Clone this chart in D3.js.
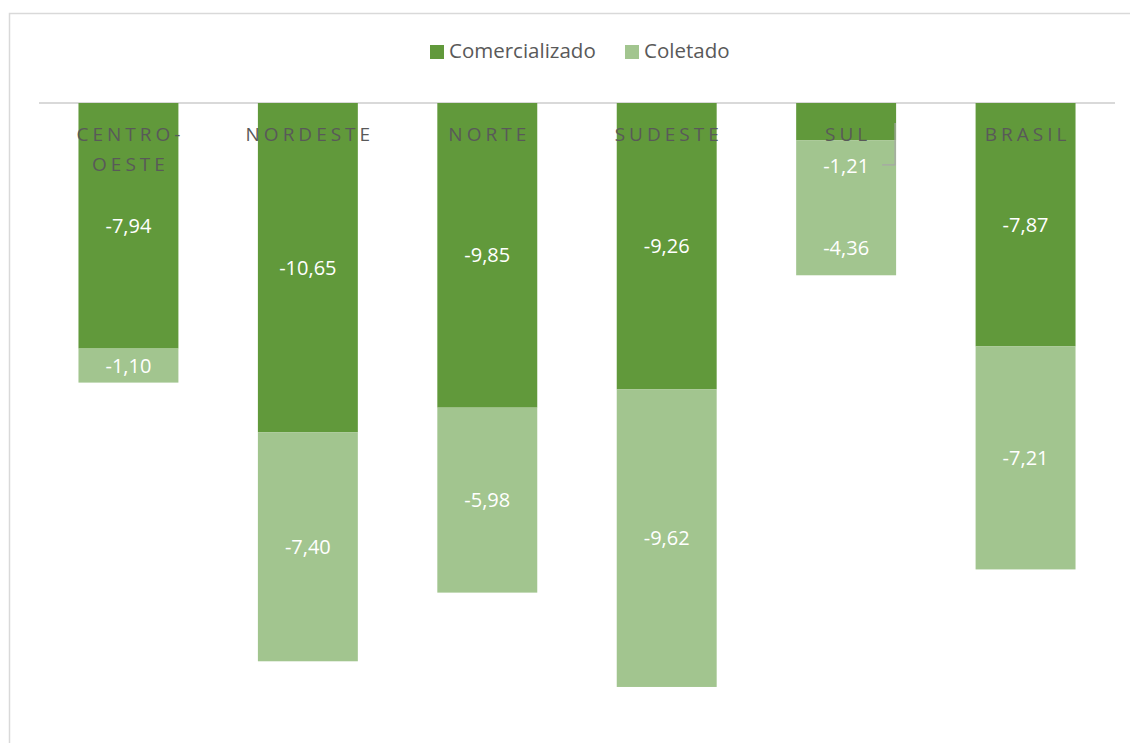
<!DOCTYPE html>
<meta charset="utf-8">
<html>
<head>
<style>
  body { margin: 0; background: #fff; }
  text { font-family: "Open Sans", "Liberation Sans", sans-serif; }
</style>
</head>
<body>
<script src="https://d3js.org/d3.v7.min.js"></script>
<div id="chart"></div>
<script>
// data
var regioes = ["CENTRO-OESTE", "NORDESTE", "NORTE", "SUDESTE", "SUL", "BRASIL"];
var comercializado = [-7.94, -10.65, -9.85, -9.26, -1.21, -7.87];
var coletado = [-1.10, -7.40, -5.98, -9.62, -4.36, -7.21];
var series = ["Comercializado", "Coletado"];

var W = 1130, H = 743;
var svg = d3.select("#chart").append("svg")
  .attr("width", W).attr("height", H);

// chart frame (cut at right/bottom like the screenshot)
svg.append("path")
  .attr("d", "M9.5," + H + "V13.5H" + W)
  .attr("fill", "none").attr("stroke", "#d9d9d9").attr("stroke-width", 1.5);

var x = d3.scaleBand().domain(regioes).range([39, 1115]).paddingInner(0.443).paddingOuter(0.22);
var y = d3.scaleLinear().domain([0, -20]).range([103, 103 + 20 * 30.93]);

var color = d3.scaleOrdinal().domain(series).range(["#61993b", "#a2c58f"]);

var table = regioes.map(function(r, i) {
  return { regiao: r, Comercializado: -comercializado[i], Coletado: -coletado[i] };
});
var stacked = d3.stack().keys(series)(table);

// baseline
svg.append("line")
  .attr("x1", 39).attr("x2", 1115)
  .attr("y1", y(0)).attr("y2", y(0))
  .attr("stroke", "#d9d9d9").attr("stroke-width", 2);

var layers = svg.selectAll("g.layer").data(stacked).enter().append("g")
  .attr("class", "layer").attr("fill", function(d) { return color(d.key); });

layers.selectAll("rect").data(function(d) { return d; }).enter().append("rect")
  .attr("x", function(d) { return x(d.data.regiao); })
  .attr("width", x.bandwidth())
  .attr("y", function(d) { return y(-d[0]); })
  .attr("height", function(d) { return y(-d[1]) - y(-d[0]); });

// category labels (axis at top, inside bars)
var cat = svg.append("g");
regioes.forEach(function(r) {
  var parts = r === "CENTRO-OESTE" ? ["CENTRO-", "OESTE"] : [r];
  parts.forEach(function(p, j) {
    cat.append("text")
      .attr("x", x(r) + x.bandwidth() / 2 + 2)
      .attr("y", 141 + j * 30)
      .attr("text-anchor", "middle")
      .attr("fill", "#595959")
      .attr("font-size", 19)
      .attr("letter-spacing", 4)
      .text(p);
  });
});

// value labels
var fmt = function(v) { return v.toFixed(2).replace(".", ","); };
// manual label shifts (in data units) where the original moved labels
var labelShift = { "SUL|Comercializado": 1.43, "SUL|Coletado": 1.3 };
stacked.forEach(function(layer) {
  layer.forEach(function(d) {
    var key = d.data.regiao + "|" + layer.key;
    var mid = (d[0] + d[1]) / 2 + (labelShift[key] || 0);
    svg.append("text")
      .attr("x", x(d.data.regiao) + x.bandwidth() / 2)
      .attr("y", y(-mid))
      .attr("dy", "0.35em")
      .attr("text-anchor", "middle")
      .attr("fill", "#ffffff")
      .attr("font-size", 20)
      .text(fmt(-d.data[layer.key]));
  });
});

// leader line for SUL comercializado
var sx = x("SUL") + x.bandwidth();
var ly = y(-(-comercializado[4] / 2 + 1.43)) - 1;
svg.append("path")
  .attr("d", "M" + (sx - 14) + "," + ly + "H" + (sx - 1) + "V" + (y(0) + 20))
  .attr("fill", "none").attr("stroke", "#a6a6a6").attr("stroke-width", 1.2);

// legend
var legend = svg.append("g");
var lx = [430, 625];
series.forEach(function(s, i) {
  legend.append("rect")
    .attr("x", lx[i]).attr("y", 45).attr("width", 14).attr("height", 14)
    .attr("fill", color(s));
  legend.append("text")
    .attr("x", lx[i] + 19).attr("y", 51).attr("dy", "0.35em")
    .attr("fill", "#595959").attr("font-size", 20.5)
    .text(s);
});
</script>
</body>
</html>
